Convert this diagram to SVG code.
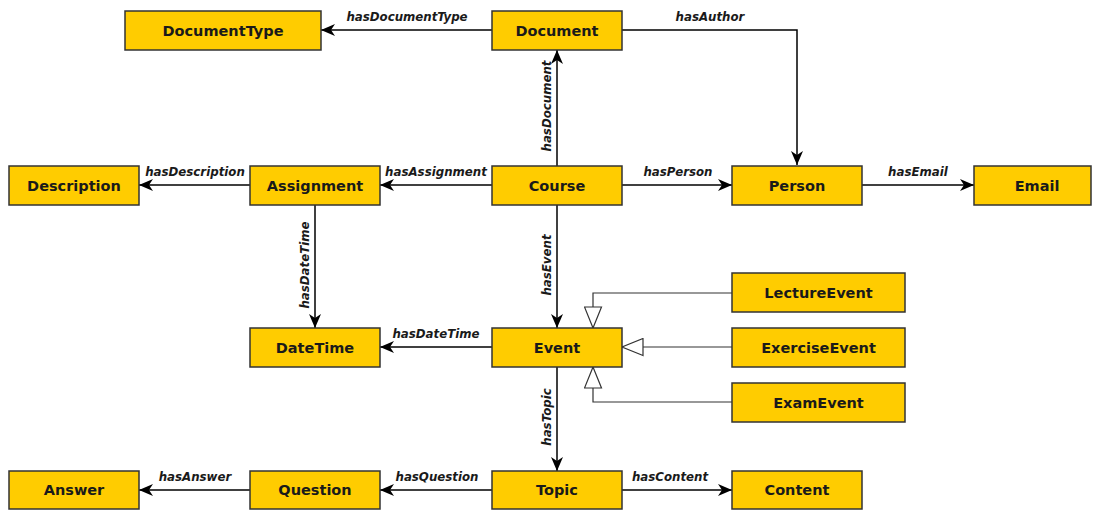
<svg xmlns="http://www.w3.org/2000/svg" width="1093" height="510" viewBox="0 0 1093 510">
  <style>
    .node rect { fill: #FFCC00; stroke: #333333; stroke-width: 1.5; }
    .node text { font-family: "DejaVu Sans", sans-serif; font-weight: bold; font-size: 14.5px; fill: #1a1a1a; text-anchor: middle; dominant-baseline: central; }
    .edge { fill: none; stroke: #000000; stroke-width: 1.5; }
    .isa { fill: none; stroke: #333333; stroke-width: 1.2; }
    .lbl { font-family: "DejaVu Sans", sans-serif; font-style: italic; font-weight: bold; font-size: 11.8px; fill: #1a1a1a; text-anchor: middle; }
  </style>
  <defs>
    <marker id="arrow" viewBox="0 0 14 12" refX="14" refY="6" markerWidth="14" markerHeight="12" markerUnits="userSpaceOnUse" orient="auto">
      <path d="M0,0 L14,6 L0,12 L4,6 Z" fill="#000000"/>
    </marker>
    <marker id="hollow" viewBox="-1 -1 23 19" refX="21" refY="8.5" markerWidth="23" markerHeight="19" markerUnits="userSpaceOnUse" orient="auto">
      <path d="M0,0 L21,8.5 L0,17 Z" fill="#ffffff" stroke="#333333" stroke-width="1.2"/>
    </marker>
  </defs>

  <!-- connectors -->
  <g id="connectors">
    <path class="edge" d="M492,30 H321" marker-end="url(#arrow)"/>
    <text class="lbl" x="407" y="21">hasDocumentType</text>

    <path class="edge" d="M622,30 H797 V165" marker-end="url(#arrow)"/>
    <text class="lbl" x="710" y="21">hasAuthor</text>

    <path class="edge" d="M557,166 V50" marker-end="url(#arrow)"/>
    <text class="lbl" transform="translate(551,106) rotate(-90)">hasDocument</text>

    <path class="edge" d="M492,185 H380" marker-end="url(#arrow)"/>
    <text class="lbl" x="436" y="176">hasAssignment</text>

    <path class="edge" d="M250,185 H139" marker-end="url(#arrow)"/>
    <text class="lbl" x="195" y="176">hasDescription</text>

    <path class="edge" d="M315,204 V328" marker-end="url(#arrow)"/>
    <text class="lbl" transform="translate(309,265) rotate(-90)">hasDateTime</text>

    <path class="edge" d="M622,185 H732" marker-end="url(#arrow)"/>
    <text class="lbl" x="678" y="176">hasPerson</text>

    <path class="edge" d="M862,185 H974" marker-end="url(#arrow)"/>
    <text class="lbl" x="918" y="176">hasEmail</text>

    <path class="edge" d="M557,204 V328" marker-end="url(#arrow)"/>
    <text class="lbl" transform="translate(551,265) rotate(-90)">hasEvent</text>

    <path class="edge" d="M492,347 H380" marker-end="url(#arrow)"/>
    <text class="lbl" x="436" y="338">hasDateTime</text>

    <path class="edge" d="M557,367 V471" marker-end="url(#arrow)"/>
    <text class="lbl" transform="translate(551,417) rotate(-90)">hasTopic</text>

    <path class="edge" d="M492,490 H380" marker-end="url(#arrow)"/>
    <text class="lbl" x="437" y="481">hasQuestion</text>

    <path class="edge" d="M250,490 H139" marker-end="url(#arrow)"/>
    <text class="lbl" x="195" y="481">hasAnswer</text>

    <path class="edge" d="M622,490 H732" marker-end="url(#arrow)"/>
    <text class="lbl" x="670" y="481">hasContent</text>

    <!-- subclass links -->
    <path class="isa" d="M732,293 H593 V328" marker-end="url(#hollow)"/>
    <path class="isa" d="M732,347 H622" marker-end="url(#hollow)"/>
    <path class="isa" d="M732,402 H593 V367" marker-end="url(#hollow)"/>
  </g>

  <!-- nodes -->
  <g id="DocumentType" class="node"><rect x="125" y="11" width="196" height="39"/><text x="223" y="30.5">DocumentType</text></g>
  <g id="Document" class="node"><rect x="492" y="11" width="130" height="39"/><text x="557" y="30.5">Document</text></g>
  <g id="Description" class="node"><rect x="9" y="166" width="130" height="39"/><text x="74" y="185.5">Description</text></g>
  <g id="Assignment" class="node"><rect x="250" y="166" width="130" height="39"/><text x="315" y="185.5">Assignment</text></g>
  <g id="Course" class="node"><rect x="492" y="166" width="130" height="39"/><text x="557" y="185.5">Course</text></g>
  <g id="Person" class="node"><rect x="732" y="166" width="130" height="39"/><text x="797" y="185.5">Person</text></g>
  <g id="Email" class="node"><rect x="974" y="166" width="117" height="39"/><text x="1037" y="185.5">Email</text></g>
  <g id="LectureEvent" class="node"><rect x="732" y="273" width="173" height="39"/><text x="818.5" y="292.5">LectureEvent</text></g>
  <g id="DateTime" class="node"><rect x="250" y="328" width="130" height="39"/><text x="315" y="347.5">DateTime</text></g>
  <g id="Event" class="node"><rect x="492" y="328" width="130" height="39"/><text x="557" y="347.5">Event</text></g>
  <g id="ExerciseEvent" class="node"><rect x="732" y="328" width="173" height="39"/><text x="818.5" y="347.5">ExerciseEvent</text></g>
  <g id="ExamEvent" class="node"><rect x="732" y="383" width="173" height="39"/><text x="818.5" y="402.5">ExamEvent</text></g>
  <g id="Answer" class="node"><rect x="9" y="471" width="130" height="38"/><text x="74" y="490">Answer</text></g>
  <g id="Question" class="node"><rect x="250" y="471" width="130" height="38"/><text x="315" y="490">Question</text></g>
  <g id="Topic" class="node"><rect x="492" y="471" width="130" height="38"/><text x="557" y="490">Topic</text></g>
  <g id="Content" class="node"><rect x="732" y="471" width="130" height="38"/><text x="797" y="490">Content</text></g>
</svg>
